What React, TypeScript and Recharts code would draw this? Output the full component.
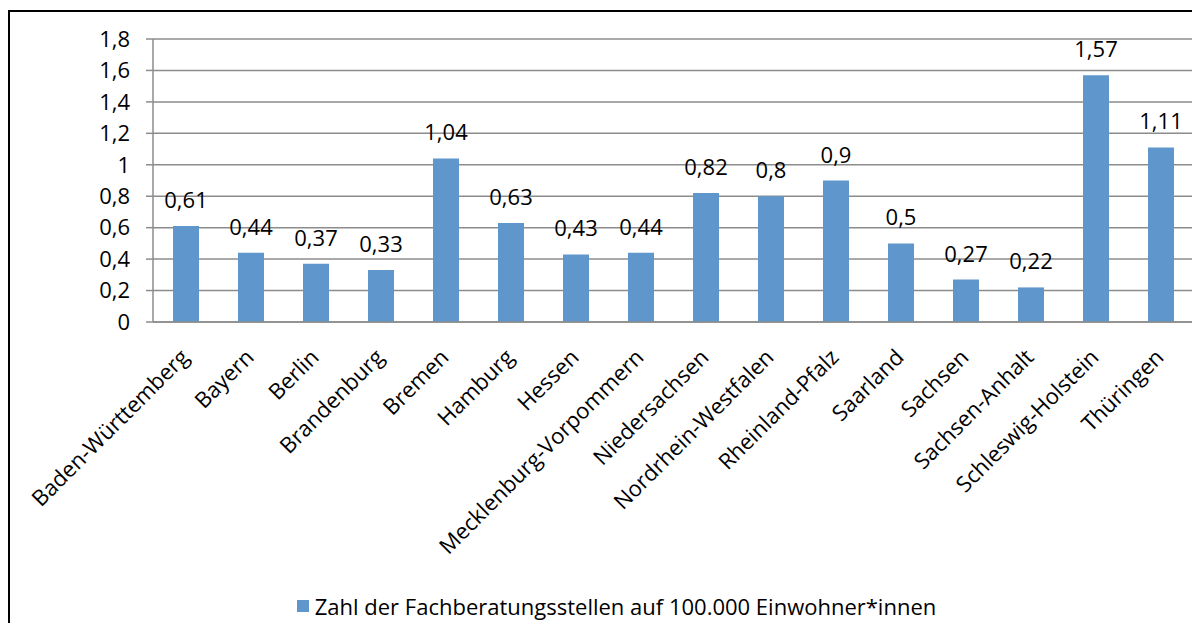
import React from 'react';
import { BarChart, Bar, XAxis, YAxis, CartesianGrid, Legend, LabelList } from 'recharts';

const categories = [
  'Baden-Württemberg', 'Bayern', 'Berlin', 'Brandenburg', 'Bremen', 'Hamburg', 'Hessen',
  'Mecklenburg-Vorpommern', 'Niedersachsen', 'Nordrhein-Westfalen', 'Rheinland-Pfalz',
  'Saarland', 'Sachsen', 'Sachsen-Anhalt', 'Schleswig-Holstein', 'Thüringen',
];
const values = [0.61, 0.44, 0.37, 0.33, 1.04, 0.63, 0.43, 0.44, 0.82, 0.8, 0.9, 0.5, 0.27, 0.22, 1.57, 1.11];
const yTicks = [0, 0.2, 0.4, 0.6, 0.8, 1, 1.2, 1.4, 1.6, 1.8];
const boundaryTicks = [0, 1, 2, 3, 4, 5, 6, 7, 8, 9, 10, 11, 12, 13, 14, 15, 16];
const seriesName = 'Zahl der Fachberatungsstellen auf 100.000 Einwohner*innen';

const data = categories.map((c, i) => ({ name: c, value: values[i] }));

const FONT = '"Open Sans", sans-serif';
const FS = 22;
const BAR = '#5F97CD';
const GRID = '#8C8C8C';
const comma = (v: any) => String(v).replace('.', ',');

const XTick = (props: any) => {
  const { x, y, payload } = props;
  return (
    <g transform={`translate(${x - 7},${y + 17}) rotate(-45)`}>
      <text x={0} y={0} dy="0.75em" textAnchor="end" fill="#000" fontSize={FS} fontFamily={FONT}>
        {payload.value}
      </text>
    </g>
  );
};

const LegendContent = () => (
  <div style={{ height: 34, display: 'flex', alignItems: 'center', justifyContent: 'center', paddingLeft: 30, fontFamily: FONT, fontSize: FS, color: '#000' }}>
    <span style={{ width: 12, height: 12, background: BAR, display: 'inline-block', marginRight: 6 }} />
    <span>{seriesName}</span>
  </div>
);

export default function App() {
  return (
    <div style={{ paddingTop: 2 }}>
      <div style={{ width: 1186, height: 611, border: '2px solid #000', borderBottom: 'none', background: '#fff' }}>
        <BarChart width={1186} height={611} data={data} margin={{ top: 27, right: 3, bottom: 0, left: 0 }} barCategoryGap={0}>
          <CartesianGrid horizontal vertical={false} stroke={GRID} strokeWidth={1.5} />
          <XAxis xAxisId="b" type="number" domain={[0, 16]} ticks={boundaryTicks} tick={false} tickSize={7}
            axisLine={false} tickLine={{ stroke: GRID, strokeWidth: 1.5 }} height={0} allowDataOverflow />
          <XAxis dataKey="name" interval={0} tickLine={false} axisLine={{ stroke: GRID, strokeWidth: 1.5 }} height={267} tick={<XTick />} />
          <YAxis domain={[0, 1.8]} ticks={yTicks} width={143} tickSize={7} tickMargin={16}
            tickFormatter={comma} axisLine={{ stroke: GRID, strokeWidth: 1.5 }} tickLine={{ stroke: GRID, strokeWidth: 1.5 }}
            tick={{ fill: '#000', fontSize: FS, fontFamily: FONT }} />
          <Legend verticalAlign="bottom" content={<LegendContent />} />
          <Bar dataKey="value" name={seriesName} fill={BAR} barSize={26} isAnimationActive={false}>
            <LabelList dataKey="value" position="top" offset={18} formatter={comma} fill="#000" fontSize={FS} fontFamily={FONT} />
          </Bar>
        </BarChart>
      </div>
    </div>
  );
}
